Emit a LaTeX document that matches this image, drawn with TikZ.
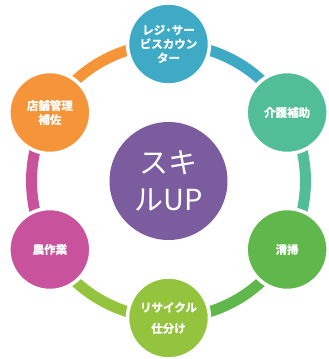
\documentclass[tikz,border=0pt]{standalone}
\usepackage{fontspec}
\usepackage{tikz}
\newfontfamily\jpfont{Noto Sans CJK JP}
\newfontfamily\jpbold{Noto Sans CJK JP Bold}[FakeBold=1.2]

\definecolor{cBlue}{HTML}{3EAAC6}
\definecolor{cTeal}{HTML}{52BE98}
\definecolor{cGreen}{HTML}{60B84C}
\definecolor{cLime}{HTML}{94C43E}
\definecolor{cPink}{HTML}{C8529C}
\definecolor{cOrange}{HTML}{F59438}
\definecolor{cPurple}{HTML}{7B5C9E}

\tikzset{
    skill/.style={circle, minimum size=82pt, inner sep=0pt, draw=white,
        line width=3.5pt, text=white, align=center,
        font=\jpbold\fontsize{11.5}{14}\selectfont},
    core/.style={circle, minimum size=118pt, inner sep=0pt, fill=cPurple,
        text=white, align=center,
        font=\jpfont\fontsize{29}{37}\selectfont},
    ring/.style={line width=11pt}
}

\begin{document}
\begin{tikzpicture}[x=1pt,y=1pt]
    % Рамка рисунка
    \useasboundingbox (-168.5,-178) rectangle (160.5,181);

    % Радиус кольца
    \def\R{137}

    % Кольцо из дуг
    \foreach \a/\col in {90/cBlue, 30/cTeal, -30/cGreen, -90/cLime, -150/cPink, 150/cOrange}
    {
        \coordinate (p\a) at (\a:\R);
        \draw[ring, \col] (p\a) arc[start angle=\a, end angle=\a-60, radius=\R];
    }

    % Круги навыков
    \node[skill, fill=cBlue] (kasa) at (90:\R) {レジ{\kern-2.5pt}・{\kern-2.5pt}サー\\ビスカウン\\ター};
    \node[skill, fill=cTeal] (kaigo) at (30:\R) {介護補助};
    \node[skill, fill=cGreen] (seiso) at (-30:\R) {清掃};
    \node[skill, fill=cLime, font=\jpbold\fontsize{11.5}{21}\selectfont] (recycle) at (-90:\R) {リサイクル\\仕分け};
    \node[skill, fill=cPink] (noka) at (-150:\R) {農作業};
    \node[skill, fill=cOrange] (tenpo) at (150:\R) {店舗管理\\補佐};

    % Центр
    \node[core] (up) at (0,0) {スキ\\ルUP};
\end{tikzpicture}
\end{document}
